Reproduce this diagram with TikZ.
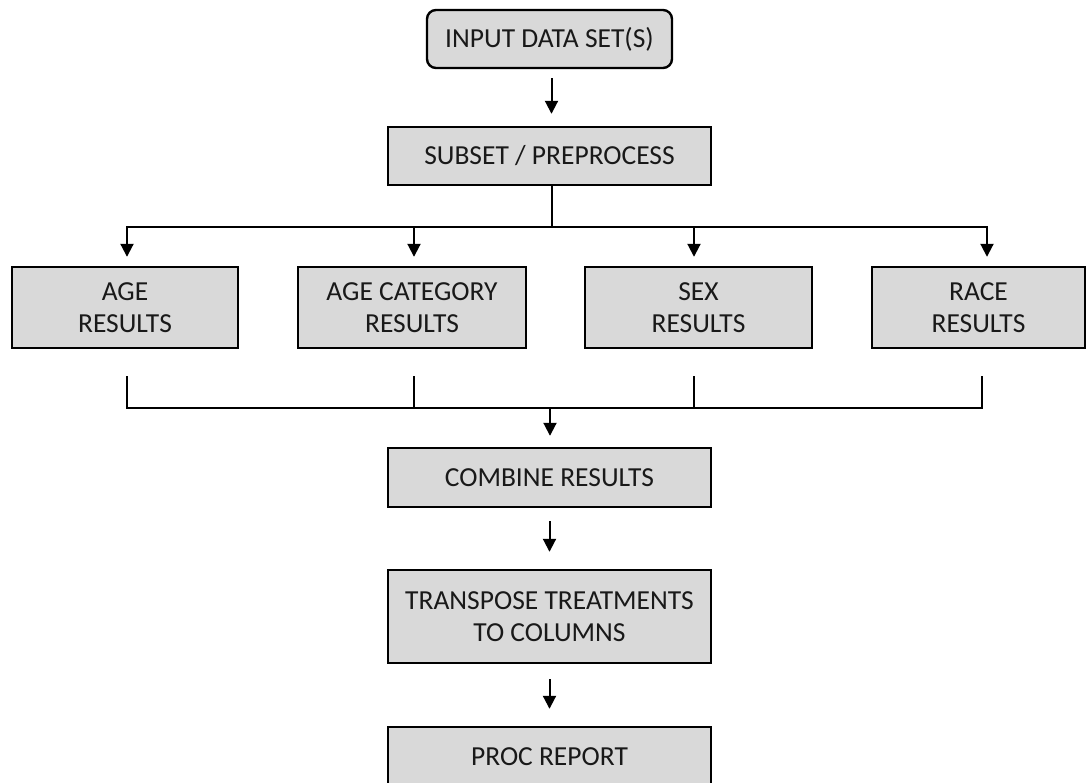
\documentclass[tikz,border=0pt]{standalone}
\usepackage{fontspec}
\setmainfont{Carlito}
\usetikzlibrary{arrows.meta,calc}
\definecolor{boxfill}{RGB}{217,217,217}
\begin{document}
\begin{tikzpicture}[x=1pt,y=-1pt,
  box/.style={draw=black,line width=2.4pt,fill=boxfill,align=center,inner sep=0pt,
    font=\fontsize{27.5}{32}\selectfont,text=black!90},
  conn/.style={line width=2pt,black},
  arr/.style={conn,-{Triangle[length=13pt,width=13pt]}}]
\clip (0,0) rectangle (1088,783);
\fill[white] (0,0) rectangle (1088,783);
\node[box,rounded corners=9pt,minimum width=245pt,minimum height=58pt] (in) at (549.5,39) {INPUT DATA SET(S)};
\node[box,minimum width=323pt,minimum height=58pt] (sub) at (549.5,156) {SUBSET / PREPROCESS};
\node[box,minimum width=226pt,minimum height=81pt] (age) at (125,307.5) {AGE\\RESULTS};
\node[box,minimum width=228pt,minimum height=81pt] (agecat) at (412,307.5) {AGE CATEGORY\\RESULTS};
\node[box,minimum width=227pt,minimum height=81pt] (sex) at (698.5,307.5) {SEX\\RESULTS};
\node[box,minimum width=213pt,minimum height=81pt] (race) at (978.5,307.5) {RACE\\RESULTS};
\node[box,minimum width=323pt,minimum height=59pt] (comb) at (549.5,477.5) {COMBINE RESULTS};
\node[box,minimum width=323pt,minimum height=93pt] (trans) at (549.5,616.5) {TRANSPOSE TREATMENTS\\TO COLUMNS};
\node[box,minimum width=323pt,minimum height=59pt] (proc) at (549.5,756.5) {PROC REPORT};
% top arrow
\draw[arr,shorten <=9pt,shorten >=12pt] ([xshift=2pt]in.south) -- ([xshift=2pt]sub.north);
% split
\coordinate (s) at (552,227);
\draw[conn] ([xshift=2.5pt]sub.south) -- (s);
\draw[arr,shorten >=9pt] (s) -| ([xshift=2pt]age.north);
\draw[arr,shorten >=9pt] (s) -| ([xshift=2pt]agecat.north);
\draw[arr,shorten >=9pt] (s) -| ([xshift=-4.5pt]sex.north);
\draw[arr,shorten >=9pt] (s) -| ([xshift=8.5pt]race.north);
% merge
\coordinate (m) at (550,408);
\draw[conn] ([xshift=2pt,yshift=-27pt]age.south) |- (m);
\draw[conn] ([xshift=2pt,yshift=-27pt]agecat.south) |- (m);
\draw[conn] ([xshift=-4.5pt,yshift=-27pt]sex.south) |- (m);
\draw[conn] ([xshift=3.5pt,yshift=-27pt]race.south) |- (m);
\draw[arr,shorten >=11pt] (m) -- (m |- comb.north);
% lower arrows
\draw[arr,shorten <=13pt,shorten >=17pt] (comb.south) -- (trans.north);
\draw[arr,shorten <=15pt,shorten >=17pt] (trans.south) -- (proc.north);
\end{tikzpicture}
\end{document}
